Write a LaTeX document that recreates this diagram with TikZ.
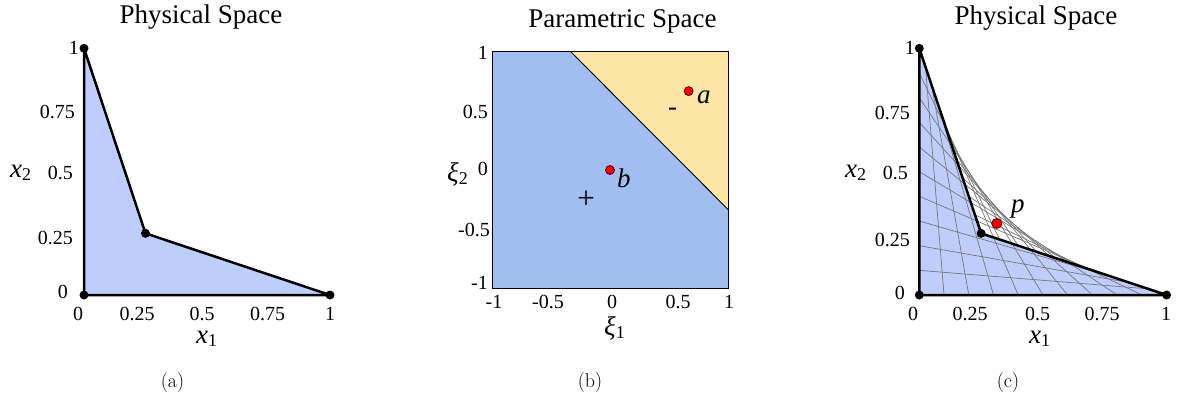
\documentclass[tikz,border=0pt]{standalone}
\usepackage{fontspec}
\newfontfamily\tms{Liberation Serif}
\definecolor{fillA}{RGB}{191,205,250}
\definecolor{bblue}{RGB}{160,190,240}
\definecolor{byel}{RGB}{253,230,165}
\definecolor{gridc}{RGB}{120,120,120}
\newcommand{\sbs}[1]{\raisebox{-0.12em}{\upshape\fontsize{18}{18}\selectfont #1}}
\begin{document}
\begin{tikzpicture}[x=1pt,y=-1pt,
  tick/.style={font=\tms\fontsize{20}{22}\selectfont, inner sep=0pt},
  ttl/.style={font=\tms\fontsize{27}{30}\selectfont, inner sep=0pt, anchor=base},
  axl/.style={font=\tms\itshape\fontsize{27}{30}\selectfont, inner sep=0pt, anchor=base west},
  sgn/.style={font=\tms\fontsize{27}{30}\selectfont, inner sep=0pt, anchor=base},
  captxt/.style={font=\fontsize{20}{24}\selectfont, inner sep=0pt},
  vdot/.style={circle, fill=black, inner sep=0pt, minimum size=9pt},
  rdot/.style={circle, fill=red, draw=red!35!black, line width=0.8pt, inner sep=0pt, minimum size=9pt},
  edgeline/.style={line width=2.5pt, line join=round},
  gridl/.style={draw=gridc, line width=0.7pt},
]
\useasboundingbox (0,0) rectangle (1177,397);

% ---------- panel (a) ----------
\node[ttl] (ta) at (201,23.3) {Physical Space};
\begin{scope}[shift={(84pt,-295pt)}, x=246pt, y=246.7pt]
  \coordinate (A00) at (0,0);
  \coordinate (A10) at (1,0);
  \coordinate (A11) at (0.25,0.25);
  \coordinate (A01) at (0,1);
  \fill[fillA] (A00) -- (A10) -- (A11) -- (A01) -- cycle;
  \draw[edgeline] (A00) -- (A10) -- (A11) -- (A01) -- cycle;
  \node[vdot] (dA00) at (A00) {};
  \node[vdot] (dA10) at (A10) {};
  \node[vdot] (dA11) at (A11) {};
  \node[vdot] (dA01) at (A01) {};
\end{scope}
\node[tick, anchor=east] (ay1) at (79,48) {1};
\node[tick, anchor=east] (ay2) at (75,112) {0.75};
\node[tick, anchor=east] (ay3) at (73,173) {0.5};
\node[tick, anchor=east] (ay4) at (73,238) {0.25};
\node[tick, anchor=east] (ay5) at (68,292) {0};
\node[tick] (ax1) at (78,313.5) {0};
\node[tick] (ax2) at (137,313.5) {0.25};
\node[tick] (ax3) at (202,313.5) {0.5};
\node[tick] (ax4) at (267.5,313.5) {0.75};
\node[tick] (ax5) at (330,313.5) {1};
\node[axl] (alx2) at (10,177) {x\sbs{2}};
\node[axl] (alx1) at (196,343) {x\sbs{1}};
\node[captxt] (capa) at (172.5,383) {(a)};

% ---------- panel (b) ----------
\node[ttl] (tb) at (622.5,27.3) {Parametric Space};
\begin{scope}[shift={(610pt,-170pt)}, x=118pt, y=118.3pt]
  \coordinate (B1) at (-1,-1);
  \coordinate (B2) at (1,1);
  \coordinate (Bt) at (-1/3,1);
  \coordinate (Br) at (1,-1/3);
  \coordinate (Bc) at (1,1);
  \fill[bblue] (B1) rectangle (B2);
  \fill[byel] (Bt) -- (Bc) -- (Br) -- cycle;
  \draw[line width=0.9pt] (Bt) -- (Br);
  \draw[line width=1pt] (B1) rectangle (B2);
  \node[rdot] (pa) at (2/3,2/3) {};
  \node[rdot] (pb) at (0,0) {};
\end{scope}
\node[axl] (la) at (697,103) {a};
\node[axl] (lb) at (617,187) {b};
\node[sgn] (minus) at (672.5,115.6) {-};
\node[sgn, font=\tms\fontsize{31}{33}\selectfont] (plus) at (586,208) {+};
\node[tick, anchor=east] (by1) at (488,53) {1};
\node[tick, anchor=east] (by2) at (488,112) {0.5};
\node[tick, anchor=east] (by3) at (488,169) {0};
\node[tick, anchor=east] (by4) at (490,230) {-0.5};
\node[tick, anchor=east] (by5) at (488,283) {-1};
\node[tick] (bx1) at (494,301.5) {-1};
\node[tick] (bx2) at (548,301.5) {-0.5};
\node[tick] (bx3) at (612,301.5) {0};
\node[tick] (bx4) at (678,301.5) {0.5};
\node[tick] (bx5) at (729,301.5) {1};
\node[axl] (blx2) at (447,181) {ξ\sbs{2}};
\node[axl] (blx1) at (604,335) {ξ\sbs{1}};
\node[captxt] (capb) at (590,383) {(b)};

% ---------- panel (c) ----------
\node[ttl] (tc) at (1036,24) {Physical Space};
\begin{scope}[shift={(919.3pt,-295pt)}, x=247.3pt, y=246.7pt]
  \coordinate (C00) at (0,0);
  \coordinate (C10) at (1,0);
  \coordinate (C11) at (0.25,0.25);
  \coordinate (C01) at (0,1);
  \fill[fillA] (C00) -- (C10) -- (C11) -- (C01) -- cycle;
  \foreach \k in {1,...,9}{
    \pgfmathsetmacro{\s}{-1+0.2*\k}
    \draw[gridl] ({(1+\s)/2},0) -- ({(1+\s)/8},{(1.25-0.75*\s)/2});
    \draw[gridl] (0,{(1+\s)/2}) -- ({(1.25-0.75*\s)/2},{(1+\s)/8});
  }
  \draw[edgeline] (C00) -- (C10) -- (C11) -- (C01) -- cycle;
  \node[vdot] (dC00) at (C00) {};
  \node[vdot] (dC10) at (C10) {};
  \node[vdot] (dC11) at (C11) {};
  \node[vdot] (dC01) at (C01) {};
  \node[rdot, minimum size=10pt] (pp) at (0.313,0.29) {};
\end{scope}
\node[axl] (lp) at (1011,212) {p};
\node[tick, anchor=east] (cy1) at (915,48) {1};
\node[tick, anchor=east] (cy2) at (910,113) {0.75};
\node[tick, anchor=east] (cy3) at (908,173) {0.5};
\node[tick, anchor=east] (cy4) at (910,240) {0.25};
\node[tick, anchor=east] (cy5) at (905,293) {0};
\node[tick] (cx1) at (913,313.5) {0};
\node[tick] (cx2) at (970,313.5) {0.25};
\node[tick] (cx3) at (1037.5,313.5) {0.5};
\node[tick] (cx4) at (1102,313.5) {0.75};
\node[tick] (cx5) at (1166,313.5) {1};
\node[axl] (clx2) at (845,177) {x\sbs{2}};
\node[axl] (clx1) at (1029,343) {x\sbs{1}};
\node[captxt] (capc) at (1008,383) {(c)};
\end{tikzpicture}
\end{document}
